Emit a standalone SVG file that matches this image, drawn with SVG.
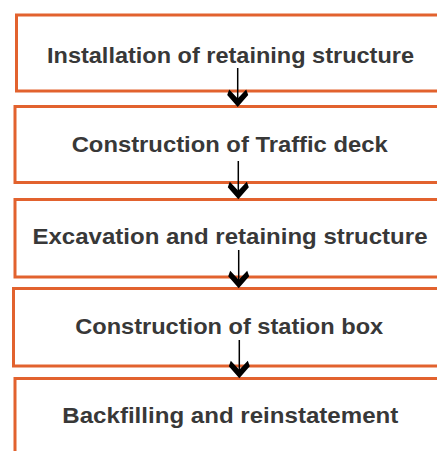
<svg xmlns="http://www.w3.org/2000/svg" width="437" height="451" viewBox="0 0 437 451">
  <defs>
    <style>
      .box { fill: #ffffff; stroke: #E2622E; stroke-width: 3; }
      .label { font-family: "Liberation Sans", Arial, sans-serif; font-weight: bold; font-size: 22.5px; fill: #383838; text-anchor: middle; }
      .link { stroke: #000000; stroke-width: 1.5; fill: none; }
      .head { fill: #000000; }
    </style>
    <!-- barbed arrowhead, tip at origin pointing down -->
    <path id="barb" class="head" d="M0,0 L-10.5,-12 L-8.5,-17.5 L0,-8.5 L8.5,-17.5 L10.5,-12 Z"/>
  </defs>
  <rect width="437" height="451" fill="#ffffff"/>

  <g id="step1">
    <rect class="box" x="16.5" y="15" width="440" height="76"/>
    <text class="label" x="230.5" y="62.5" textLength="367" lengthAdjust="spacingAndGlyphs">Installation of retaining structure</text>
  </g>
  <g id="step2">
    <rect class="box" x="15" y="106.5" width="440" height="76"/>
    <text class="label" x="229.7" y="151.7" textLength="316" lengthAdjust="spacingAndGlyphs">Construction of Traffic deck</text>
  </g>
  <g id="step3">
    <rect class="box" x="15" y="199.5" width="440" height="77.5"/>
    <text class="label" x="230" y="244.3" textLength="395" lengthAdjust="spacingAndGlyphs">Excavation and retaining structure</text>
  </g>
  <g id="step4">
    <rect class="box" x="13.5" y="288.5" width="440" height="77.5"/>
    <text class="label" x="229.2" y="334.3" textLength="308" lengthAdjust="spacingAndGlyphs">Construction of station box</text>
  </g>
  <g id="step5">
    <rect class="box" x="15" y="378.5" width="440" height="100"/>
    <text class="label" x="230.3" y="423.3" textLength="336" lengthAdjust="spacingAndGlyphs">Backfilling and reinstatement</text>
  </g>

  <g id="connectors">
    <line class="link" x1="237.7" y1="68" x2="237.7" y2="100"/>
    <use href="#barb" x="237.7" y="107"/>
    <line class="link" x1="238.3" y1="161" x2="238.3" y2="192"/>
    <use href="#barb" x="238.3" y="199.3"/>
    <line class="link" x1="238.7" y1="250" x2="238.7" y2="281"/>
    <use href="#barb" x="238.7" y="288.3"/>
    <line class="link" x1="239.3" y1="340" x2="239.3" y2="371"/>
    <use href="#barb" x="239.3" y="378.3"/>
  </g>
</svg>
